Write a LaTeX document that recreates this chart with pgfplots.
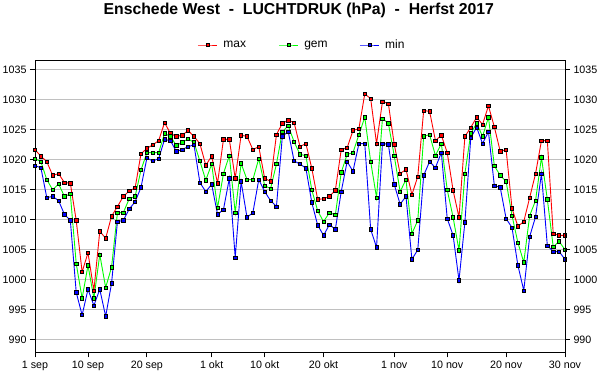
\documentclass[border=0pt]{standalone}
\usepackage{pgfplots}
\pgfplotsset{compat=1.18}
\usepackage{pgfplotstable}
\usepackage{fontspec}
\setmainfont{Liberation Sans}

\definecolor{gridgray}{RGB}{192,192,192}
\definecolor{cmax}{RGB}{255,0,0}
\definecolor{cgem}{RGB}{0,255,0}
\definecolor{cmin}{RGB}{0,0,255}

\pgfplotstableread{
d max gem min
0 1021.7 1020.2 1019.0
1 1020.6 1019.7 1018.7
2 1019.7 1016.7 1013.7
3 1017.4 1015.0 1013.9
4 1017.7 1016.0 1013.2
5 1016.2 1013.9 1010.9
6 1016.1 1014.3 1009.9
7 1009.9 1002.7 997.9
8 1001.3 996.9 994.1
9 1004.5 1002.4 998.4
10 998.2 996.9 995.7
11 1008.1 1004.2 998.4
12 1006.9 998.7 993.9
13 1010.6 1002.1 999.4
14 1012.2 1011.2 1009.7
15 1013.9 1011.2 1009.9
16 1014.8 1013.5 1011.8
17 1015.3 1013.9 1013.0
18 1021.0 1018.3 1015.4
19 1021.9 1021.2 1020.3
20 1022.5 1021.2 1019.8
21 1023.2 1021.2 1020.2
22 1026.2 1024.4 1023.4
23 1024.4 1023.9 1023.2
24 1023.9 1022.4 1021.4
25 1024.1 1022.9 1021.7
26 1024.9 1023.5 1022.2
27 1023.9 1022.9 1022.5
28 1022.7 1019.8 1016.2
29 1019.1 1016.6 1014.7
30 1020.6 1019.3 1015.9
31 1016.1 1012.0 1010.9
32 1023.4 1017.7 1011.7
33 1023.4 1020.7 1016.9
34 1016.9 1011.2 1003.7
35 1024.1 1019.4 1016.4
36 1023.9 1016.7 1010.4
37 1021.7 1016.7 1011.2
38 1022.2 1020.2 1016.7
39 1016.9 1015.7 1014.7
40 1016.4 1015.2 1013.2
41 1024.2 1019.3 1012.2
42 1026.1 1024.7 1023.9
43 1026.6 1025.7 1024.7
44 1026.2 1023.0 1019.8
45 1022.2 1020.9 1019.3
46 1022.7 1020.7 1018.6
47 1018.6 1015.0 1012.9
48 1013.4 1011.5 1009.1
49 1013.5 1009.7 1007.4
50 1013.9 1011.2 1009.2
51 1014.9 1010.8 1008.4
52 1021.7 1017.9 1014.7
53 1022.0 1020.9 1019.7
54 1024.9 1021.2 1018.1
55 1025.2 1024.2 1022.7
56 1031.0 1027.1 1022.7
57 1030.2 1019.7 1008.4
58 1022.7 1013.7 1005.4
59 1029.7 1026.9 1022.7
60 1029.4 1026.1 1022.6
61 1022.6 1020.7 1015.9
62 1017.7 1014.7 1012.6
63 1018.4 1016.7 1013.9
64 1014.2 1007.7 1003.4
65 1017.2 1009.9 1005.0
66 1028.2 1023.9 1017.4
67 1028.1 1024.2 1019.7
68 1023.2 1020.7 1018.7
69 1024.1 1022.7 1021.2
70 1021.2 1015.0 1010.2
71 1014.9 1010.4 1007.4
72 1010.4 1004.9 999.9
73 1023.9 1017.7 1009.6
74 1025.4 1024.4 1023.7
75 1027.1 1026.1 1025.4
76 1025.9 1023.9 1022.7
77 1029.0 1027.1 1024.7
78 1025.5 1019.0 1015.7
79 1021.4 1017.4 1015.4
80 1021.7 1016.4 1010.2
81 1011.9 1010.7 1008.7
82 1008.9 1006.2 1002.4
83 1009.7 1002.9 998.2
84 1013.7 1010.7 1007.2
85 1017.7 1013.2 1010.5
86 1023.2 1020.4 1017.7
87 1023.2 1013.4 1005.7
88 1007.7 1005.5 1004.7
89 1007.4 1006.4 1004.7
90 1007.4 1005.0 1003.4
}\data

\pgfplotsset{
  common/.style={
    at={(35bp,37.7bp)}, anchor=south west,
    width=530bp, height=292bp, scale only axis,
    xmin=0, xmax=90, ymin=987.9, ymax=1036.6,
    ytick={990,995,...,1035},
    tick align=outside, major tick length=5bp,
    axis line style={line width=0.8bp},
    tick style={black, line width=0.8bp},
    ticklabel style={font=\fontsize{10.7bp}{12bp}\selectfont},
    /pgf/number format/assume math mode=true,
    /pgf/number format/1000 sep={},
  },
  ser/.style={line width=0.9bp, mark=square*, mark size=1.65bp,
    mark options={draw=black, line width=0.6bp, fill=#1}},
}

\begin{document}
\begin{tikzpicture}
\useasboundingbox (0,0) rectangle (600bp,390bp);
\begin{axis}[common,
  xtick={0,9,19,30,39,49,61,70,80,90},
  xticklabels={1 sep,10 sep,20 sep,1 okt,10 okt,20 okt,1 nov,10 nov,20 nov,30 nov},
  xtick pos=bottom, ytick pos=left,
  ymajorgrids, grid style={gridgray, line width=0.8bp},
  title={Enschede West\ \ -\ \ LUCHTDRUK (hPa)\ \ -\ \ Herfst 2017},
  title style={font=\bfseries\fontsize{15.8bp}{18bp}\selectfont, at={(0.4977,1)}, anchor=base, yshift=39.6bp, inner sep=0pt},
  legend columns=3,
  legend style={at={(0.30623,1)}, anchor=west, yshift=15.3bp, draw=none, fill=none,
    inner sep=0pt, nodes={inner sep=0pt}, font=\fontsize{12bp}{14bp}\selectfont,
    /tikz/every even column/.append style={column sep=30bp},
    /tikz/every odd column/.append style={column sep=5.6bp}},
  legend image code/.code={\draw[mark repeat=2,mark phase=2,#1] plot coordinates {(0bp,0bp) (9.7bp,0bp) (19.4bp,0bp)};},
]
\addplot[ser=cmax, color=cmax] table[x=d, y=max] {\data};
\addlegendentry{\makebox[25bp][l]{max}}
\addplot[ser=cgem, color=cgem] table[x=d, y=gem] {\data};
\addlegendentry{\makebox[25bp][l]{gem}}
\addplot[ser=cmin, color=cmin] table[x=d, y=min] {\data};
\addlegendentry{\makebox[25bp][l]{min}}
\end{axis}
\begin{axis}[common,
  axis x line=none, axis y line*=right,
  yticklabel pos=right,
]
\end{axis}
\end{tikzpicture}
\end{document}
